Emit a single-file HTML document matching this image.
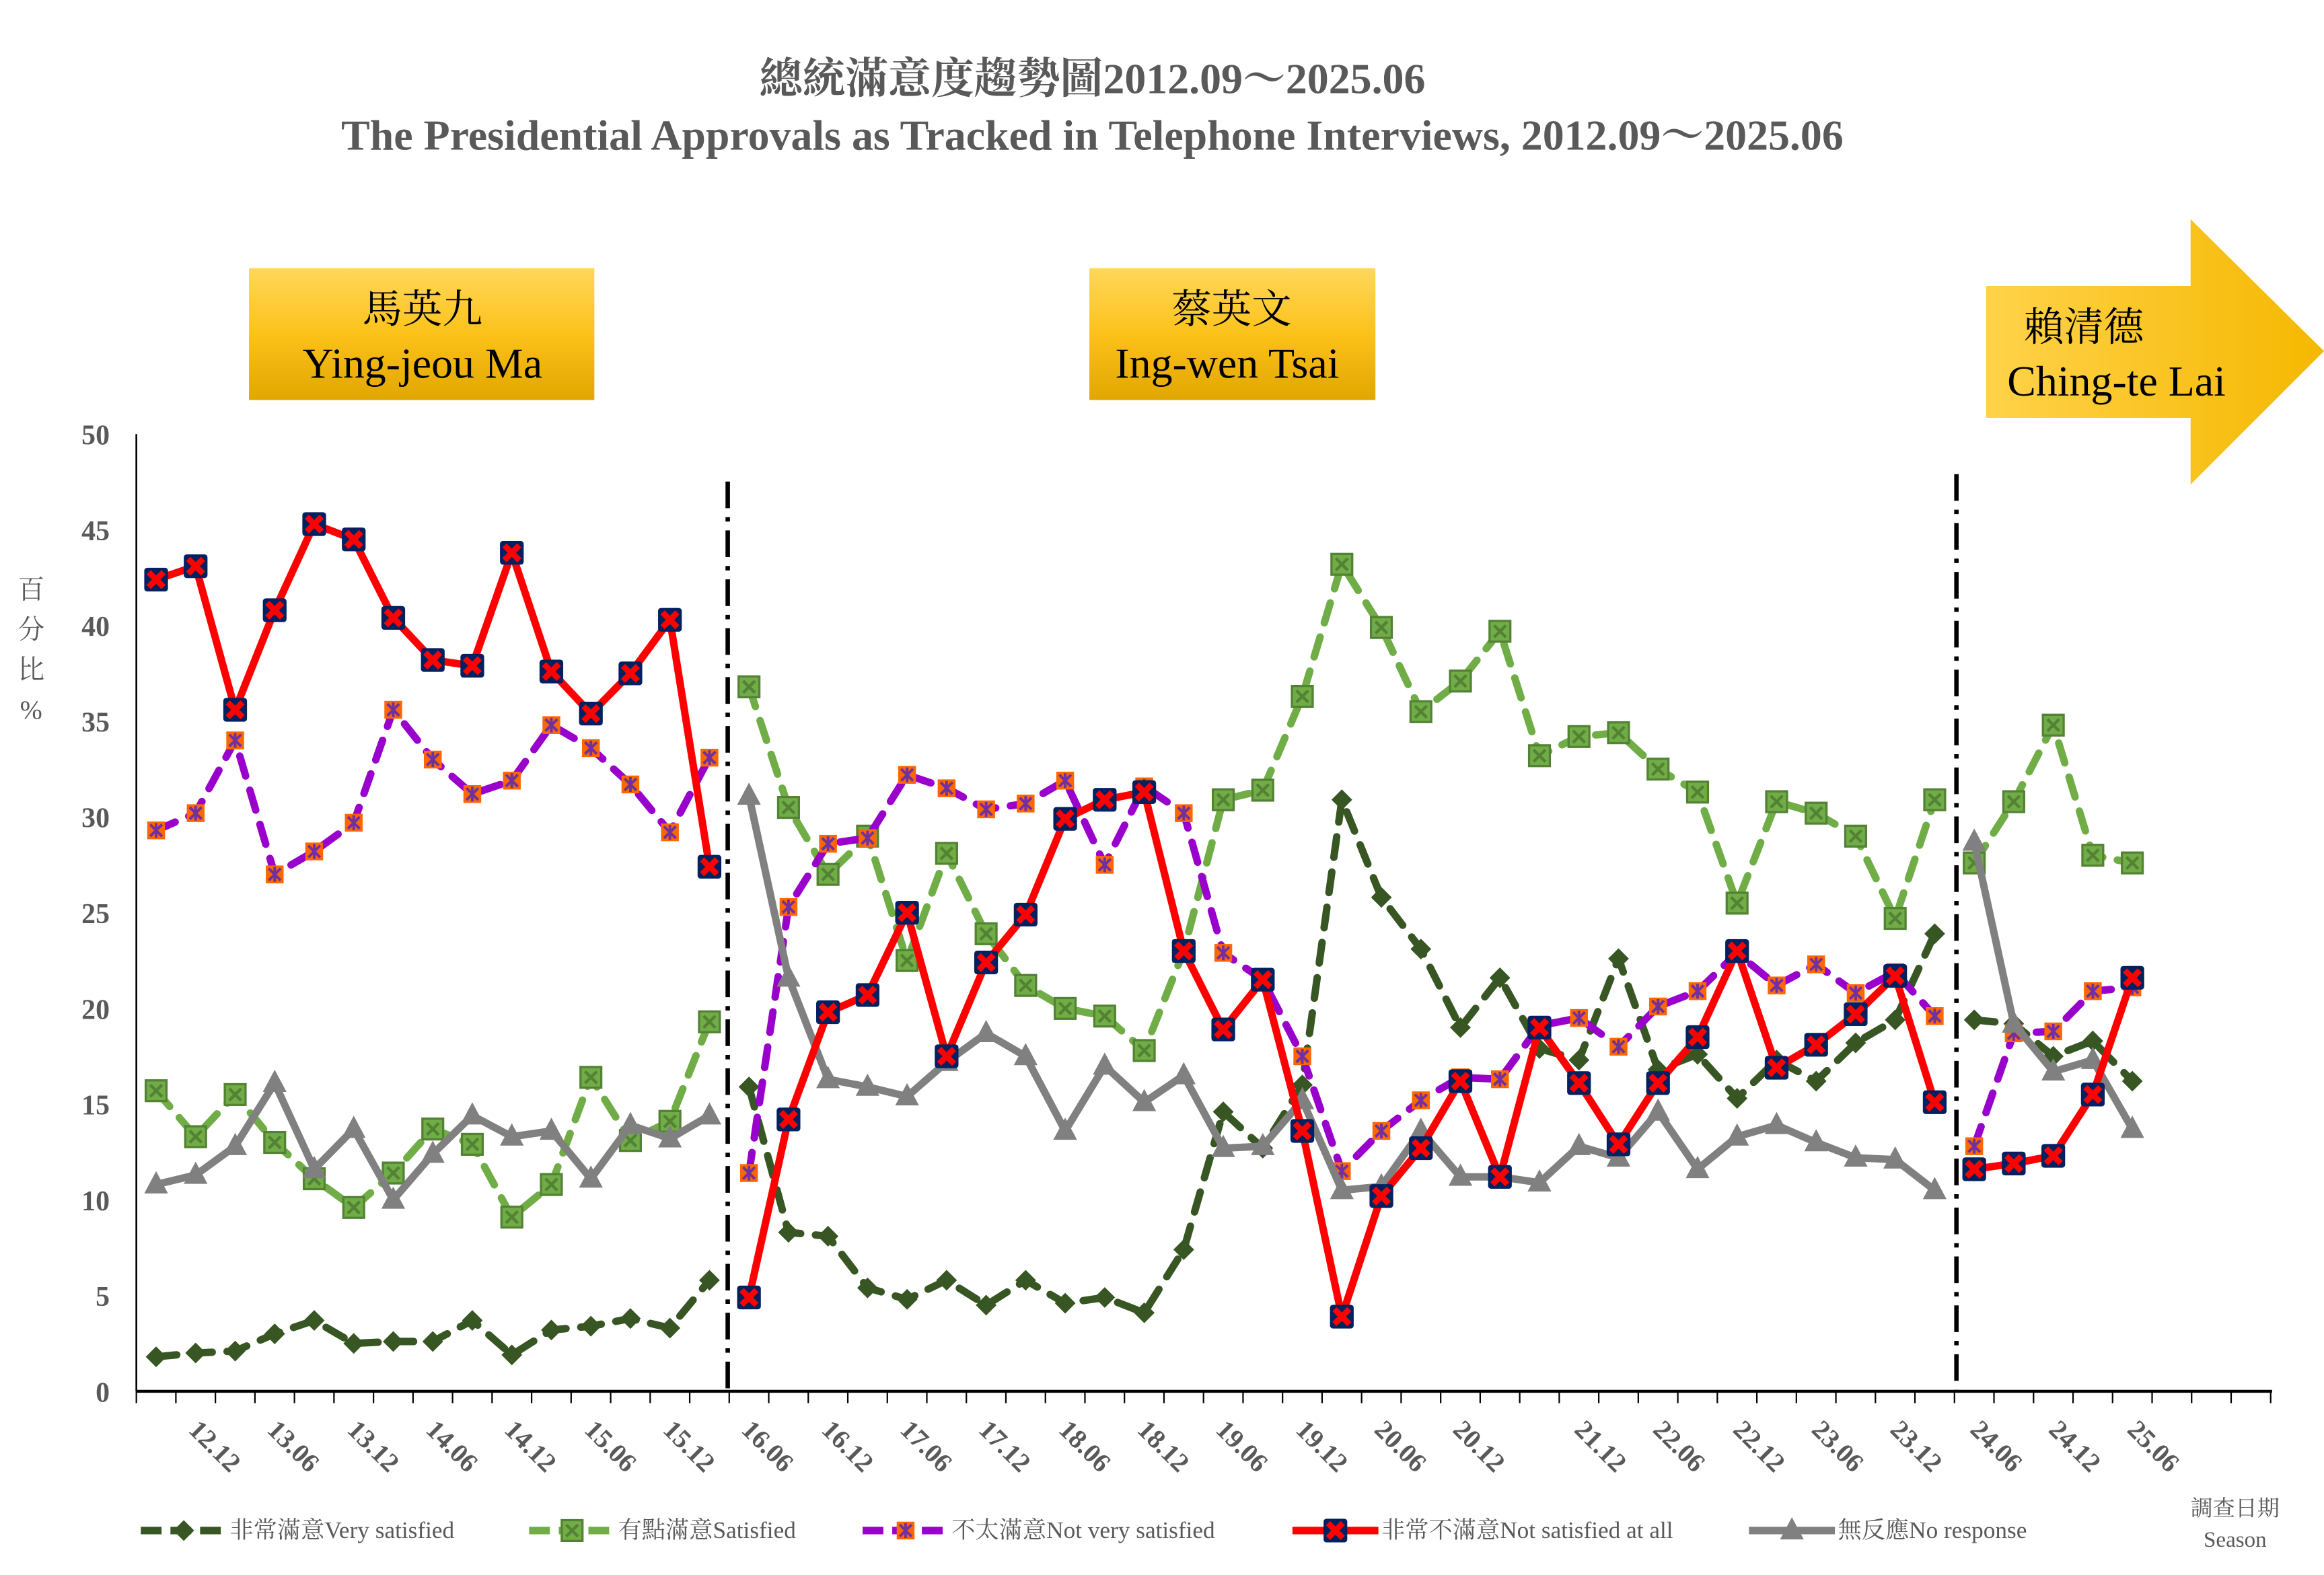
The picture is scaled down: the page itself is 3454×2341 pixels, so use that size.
<!DOCTYPE html>
<html><head><meta charset="utf-8"><style>
html,body{margin:0;padding:0;background:#fff;}
svg{display:block;}
text{font-family:"Liberation Serif","Noto Serif CJK SC","Noto Sans CJK TC",serif;}
</style></head><body>
<svg id="s" width="3454" height="2341" viewBox="0 0 1568 1063" preserveAspectRatio="none" xmlns="http://www.w3.org/2000/svg">
<defs>
<linearGradient id="gold" x1="0" y1="0" x2="0" y2="1">
<stop offset="0" stop-color="#ffd75a"/><stop offset="0.5" stop-color="#fcc21a"/><stop offset="1" stop-color="#e1a600"/></linearGradient>
<linearGradient id="gold2" x1="0" y1="0" x2="1" y2="0">
<stop offset="0" stop-color="#ffd24a"/><stop offset="1" stop-color="#f5b800"/></linearGradient>
</defs>
<text x="737" y="63" font-size="29" font-weight="bold" fill="#595959" text-anchor="middle">總統滿意度趨勢圖2012.09～2025.06</text>
<text x="737" y="101" font-size="29" font-weight="bold" fill="#595959" text-anchor="middle">The Presidential Approvals as Tracked in Telephone Interviews, 2012.09～2025.06</text>
<rect x="168" y="181" width="233" height="89" fill="url(#gold)"/>
<text x="285" y="218" font-size="27" text-anchor="middle" fill="#000">馬英九</text>
<text x="285" y="255" font-size="29" text-anchor="middle" fill="#000">Ying-jeou Ma</text>
<rect x="735" y="181" width="193" height="89" fill="url(#gold)"/>
<text x="831" y="218" font-size="27" text-anchor="middle" fill="#000">蔡英文</text>
<text x="828" y="255" font-size="29" text-anchor="middle" fill="#000">Ing-wen Tsai</text>
<path d="M1340 193 H1478 V148 L1568 237 L1478 327 V282 H1340 Z" fill="url(#gold2)"/>
<text x="1406" y="230" font-size="27" text-anchor="middle" fill="#000">賴清德</text>
<text x="1428" y="267" font-size="29" text-anchor="middle" fill="#000">Ching-te Lai</text>
<g id="g"></g>
</svg>
<script>
const NS="http://www.w3.org/2000/svg",g=document.getElementById('g');
function el(t,a,txt){const e=document.createElementNS(NS,t);for(const k in a)e.setAttribute(k,a[k]);if(txt!=null)e.textContent=txt;g.appendChild(e);return e;}
const Y=v=>939-v*12.92, X=i=>92+26.667*(i+0.5);
el('line',{x1:92,y1:293,x2:92,y2:939,stroke:'#000','stroke-width':1.2});
el('line',{x1:92,y1:939,x2:1533,y2:939,stroke:'#000','stroke-width':2});
for(let i=0;i<=54;i++){const x=92+26.667*i;el('line',{x1:x,y1:939,x2:x,y2:947,stroke:'#000','stroke-width':1});}
for(let v=0;v<=50;v+=5)el('text',{x:74,y:Y(v)+7,'font-size':19,'font-weight':'bold',fill:'#595959','text-anchor':'end'},v);
['百','分','比','%'].forEach((c,i)=>el('text',{x:21,y:404+i*27,'font-size':18,fill:'#595959','text-anchor':'middle'},c));
[[491,325],[1320,320]].forEach(([x,y])=>el('line',{x1:x,y1:y,x2:x,y2:939,stroke:'#000','stroke-width':3,'stroke-dasharray':'18,6,3,6'}));
const labs=['12.12','13.06','13.12','14.06','14.12','15.06','15.12','16.06','16.12','17.06','17.12','18.06','18.12','19.06','19.12','20.06','20.12','21.12','22.06','22.12','23.06','23.12','24.06','24.12','25.06'];
const lx=[145,198,252,305,358,412,465,518,572,625,678,732,785,838,892,945,998,1080,1133,1187,1240,1293,1347,1400,1453];
labs.forEach((t,i)=>el('text',{x:lx[i],y:982,'font-size':18,'font-weight':'bold',fill:'#595959','text-anchor':'middle',transform:`rotate(45 ${lx[i]} 976)`},t));
const ma={r:[42.4,43.1,35.6,40.8,45.3,44.5,40.4,38.2,37.9,43.8,37.6,35.4,37.5,40.3,27.4],
p:[29.3,30.2,34,27,28.2,29.7,35.6,33,31.2,31.9,34.8,33.6,31.7,29.2,33.1],
s:[15.7,13.3,15.5,13,11.1,9.6,11.4,13.7,12.9,9.1,10.8,16.4,13.1,14.1,19.3],
v:[1.8,2,2.1,3,3.7,2.5,2.6,2.6,3.7,1.9,3.2,3.4,3.8,3.3,5.8],
n:[10.8,11.3,12.8,16.1,11.6,13.7,10,12.4,14.4,13.3,13.6,11.1,13.9,13.2,14.4]};
const ts={r:[4.9,14.2,19.8,20.7,25,17.5,22.4,24.9,29.9,30.9,31.3,23,18.9,21.5,13.6,3.9,10.2,12.7,16.2,11.2,19,16.1,12.9,16.1,18.5,23,16.9,18.1,19.7,21.7,15.1],
p:[11.4,25.3,28.6,28.9,32.2,31.5,30.4,30.7,31.9,27.5,31.6,30.2,22.9,21.5,17.5,11.5,13.6,15.2,16.4,16.3,19.1,19.5,18.0,20.1,20.9,22.9,21.2,22.3,20.8,21.9,19.6],
s:[36.8,30.5,27,29,22.5,28.1,23.9,21.2,20,19.6,17.8,23,30.9,31.4,36.3,43.2,39.9,35.5,37.1,39.7,33.2,34.2,34.4,32.5,31.3,25.5,30.8,30.2,29,24.7,30.9],
v:[15.9,8.3,8.1,5.4,4.8,5.8,4.5,5.8,4.6,4.9,4.1,7.4,14.6,12.7,16.0,30.9,25.8,23.1,19,21.6,17.9,17.3,22.6,16.8,17.6,15.3,17.3,16.2,18.2,19.4,23.9],
n:[31.1,21.6,16.3,15.9,15.4,17.2,18.7,17.5,13.6,17,15.1,16.5,12.7,12.8,15.2,10.5,10.7,13.6,11.2,11.2,10.9,12.8,12.2,14.6,11.6,13.3,13.9,13.0,12.2,12.1,10.5]};
const lai={r:[11.6,11.9,12.3,15.5,21.6],p:[12.8,18.7,18.8,20.9,21.1],s:[27.6,30.8,34.8,28,27.6],v:[19.4,19.2,17.5,18.3,16.2],n:[28.7,19.2,16.7,17.3,13.7]};
const segs=[[ma,0],[ts,15],[lai,46]];
const st={s:{c:'#70ad47',d:'14,10',w:5},p:{c:'#9900cc',d:'14,10',w:5},v:{c:'#375623',d:'14,10',w:5},n:{c:'#808080',d:'',w:5},r:{c:'#ff0000',d:'',w:5}};
function mark(k,x,y){
 if(k==='v'){el('path',{d:`M${x} ${y-7}L${x+7} ${y}L${x} ${y+7}L${x-7} ${y}Z`,fill:'#375623'});}
 else if(k==='s'){el('rect',{x:x-7,y:y-7,width:14,height:14,fill:'#70ad47',stroke:'#548235','stroke-width':1.5});el('path',{d:`M${x-4} ${y-4}L${x+4} ${y+4}M${x+4} ${y-4}L${x-4} ${y+4}`,stroke:'#548235','stroke-width':2});}
 else if(k==='p'){el('rect',{x:x-6,y:y-6,width:12,height:12,fill:'#ff6600'});el('path',{d:`M${x-4} ${y-4}L${x+4} ${y+4}M${x+4} ${y-4}L${x-4} ${y+4}M${x} ${y-5}V${y+5}`,stroke:'#7030a0','stroke-width':1.8});}
 else if(k==='r'){el('rect',{x:x-8,y:y-8,width:16,height:16,rx:2,fill:'#002060'});el('path',{d:`M${x-5} ${y-5}L${x+5} ${y+5}M${x+5} ${y-5}L${x-5} ${y+5}`,stroke:'#ff0000','stroke-width':4});}
 else {el('path',{d:`M${x} ${y-9}L${x+8} ${y+6}L${x-8} ${y+6}Z`,fill:'#808080'});}
}
['s','v','p','n','r'].forEach(k=>{segs.forEach(([d,o])=>{
 const pts=d[k].map((v,i)=>[X(o+i),Y(v)]);
 el('polyline',{points:pts.map(p=>p.join(',')).join(' '),fill:'none',stroke:st[k].c,'stroke-width':st[k].w,'stroke-dasharray':st[k].d,'stroke-linecap':st[k].d?'round':'butt','stroke-linejoin':'round'});
 pts.forEach(p=>mark(k,p[0],p[1]));
});});
const leg=[['v',95,'非常滿意Very satisfied','14,6'],['s',357,'有點滿意Satisfied','14,6'],['p',582,'不太滿意Not very satisfied','14,6'],['r',872,'非常不滿意Not satisfied at all',''],['n',1180,'無反應No response','']];
leg.forEach(([k,x,t,d])=>{el('line',{x1:x,y1:1033,x2:x+58,y2:1033,stroke:st[k].c,'stroke-width':5,'stroke-dasharray':d});mark(k,x+29,1033);
 el('text',{x:x+60,y:1038,'font-size':16,fill:'#595959'},t);});
el('text',{x:1508,y:1023,'font-size':15,fill:'#595959','text-anchor':'middle'},'調查日期');
el('text',{x:1508,y:1044,'font-size':15,fill:'#595959','text-anchor':'middle'},'Season');
</script>
</body></html>
